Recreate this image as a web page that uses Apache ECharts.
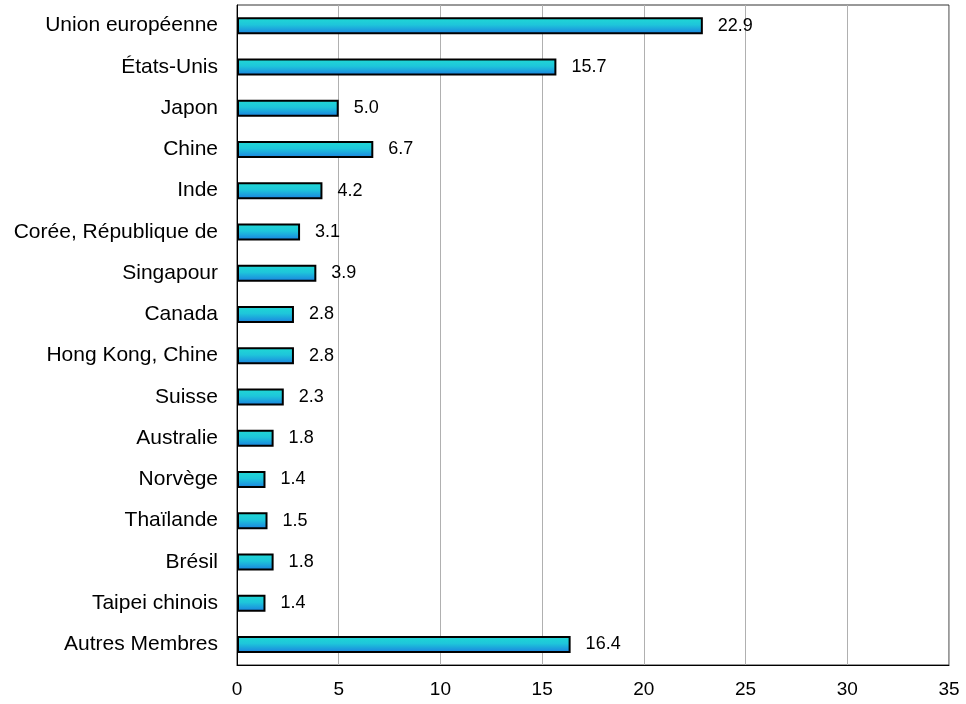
<!DOCTYPE html>
<html><head><meta charset="utf-8">
<script src="https://cdn.jsdelivr.net/npm/echarts@6/dist/echarts.min.js"></script>
<style>html,body{margin:0;padding:0;background:#fff}#c{width:966px;height:704px}</style>
</head><body><div id="c"></div>
<script>
const categories = ["Union européenne","États-Unis","Japon","Chine","Inde","Corée, République de","Singapour","Canada","Hong Kong, Chine","Suisse","Australie","Norvège","Thaïlande","Brésil","Taipei chinois","Autres Membres"];
const values = [22.9,15.7,5.0,6.7,4.2,3.1,3.9,2.8,2.8,2.3,1.8,1.4,1.5,1.8,1.4,16.4];
const xTicks = [0,5,10,15,20,25,30,35];

const numFont = '"Liberation Sans",Arial,sans-serif';
const chart = echarts.init(document.getElementById('c'), null, {renderer:'canvas'});
chart.setOption({
  animation:false,
  backgroundColor:'#fff',
  grid:{left:237,right:17,top:5,bottom:39,show:true,borderColor:'#333',borderWidth:1},
  xAxis:{type:'value',min:xTicks[0],max:xTicks[xTicks.length-1],interval:5,
    axisLine:{show:true,lineStyle:{color:'#000',width:1}},
    axisTick:{show:false},
    splitLine:{show:true,lineStyle:{color:'#b0b0b0',width:1}},
    axisLabel:{color:'#000',fontSize:19,fontFamily:numFont,margin:15}},
  yAxis:{type:'category',data:categories,inverse:true,
    axisLine:{show:true,lineStyle:{color:'#000',width:1}},
    axisTick:{show:false},
    axisLabel:{color:'#000',fontSize:21,fontFamily:'"Liberation Sans",Arial,sans-serif',margin:19}},
  series:[{type:'bar',data:values,barWidth:17,
    itemStyle:{borderColor:'#000',borderWidth:2,
      color:new echarts.graphic.LinearGradient(0,0,0,1,[{offset:0,color:'#20dad4'},{offset:0.45,color:'#1ec6da'},{offset:1,color:'#1a7ee0'}])},
    label:{show:true,position:'right',distance:15,color:'#000',fontSize:18,
      fontFamily:numFont,
      formatter:p=>p.value.toFixed(1)}}]
});
</script></body></html>
